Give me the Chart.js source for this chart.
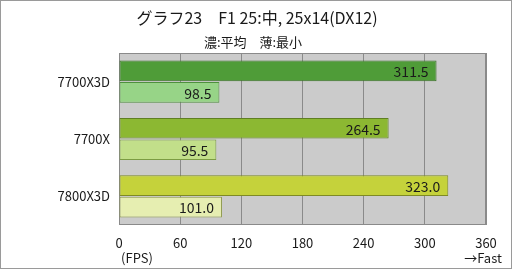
<!DOCTYPE html>
<html>
<head>
<meta charset="UTF-8">
<title>グラフ23</title>
<script src="https://cdn.jsdelivr.net/npm/chart.js@4.4.0/dist/chart.umd.min.js"></script>
<style>body{margin:0;background:#fff}</style>
</head>
<body>
<canvas id="fpsChart" width="512" height="271"></canvas>
<script>
var cpus = ['7700X3D', '7700X', '7800X3D'];
var avgFps = [311.5, 264.5, 323.0];
var minFps = [98.5, 95.5, 101.0];
var xTicks = [0, 60, 120, 180, 240, 300, 360];

var titleText = 'グラフ23\u3000F1 25:中, 25x14(DX12)';
var subtitleText = '濃:平均\u3000薄:最小';

var FONT = '"Noto Sans CJK JP", "Noto Sans", sans-serif';

var avgColors = ['#4f9c38', '#8cb832', '#c5d23b'];
var avgBorders = ['#3b6f29', '#5f7f22', '#7f8a25'];
var minColors = ['#97d487', '#c2df8a', '#e6eeb1'];
var minBorders = ['#4f8f3e', '#7c9c43', '#8f9a4a'];

var PLOT = { left: 119, top: 53, right: 486, bottom: 225 };

var decor = {
    id: 'decor',
    beforeDraw: function (chart) {
        var ctx = chart.ctx, a = chart.chartArea;
        ctx.save();
        ctx.fillStyle = '#fff';
        ctx.fillRect(0, 0, chart.width, chart.height);
        ctx.strokeStyle = '#9a9a9a';
        ctx.lineWidth = 1;
        ctx.strokeRect(0.5, 0.5, chart.width - 1, chart.height - 3);
        ctx.fillStyle = '#cbcbcb';
        ctx.fillRect(a.left, a.top, a.right - a.left, a.bottom - a.top);
        ctx.restore();
    },
    beforeDatasetsDraw: function (chart) {
        var ctx = chart.ctx, a = chart.chartArea;
        ctx.save();
        ctx.strokeStyle = '#8a8a8a';
        ctx.lineWidth = 1;
        ctx.strokeRect(a.left + 0.5, a.top + 0.5, a.right - a.left - 1, a.bottom - a.top - 1);
        ctx.restore();
    },
    afterDatasetsDraw: function (chart) {
        var ctx = chart.ctx;
        ctx.save();
        ctx.font = '14px ' + FONT;
        ctx.fillStyle = '#1a1a1a';
        ctx.textAlign = 'right';
        ctx.textBaseline = 'middle';
        chart.data.datasets.forEach(function (ds, i) {
            chart.getDatasetMeta(i).data.forEach(function (bar, j) {
                ctx.fillText(ds.data[j].toFixed(1), bar.x - 8, bar.y + 1);
            });
        });
        ctx.restore();
    },
    afterDraw: function (chart) {
        var ctx = chart.ctx;
        ctx.save();
        ctx.fillStyle = '#1a1a1a';
        ctx.textAlign = 'center';
        ctx.textBaseline = 'middle';
        ctx.font = '16px ' + FONT;
        ctx.fillText(titleText, 257, 18);
        ctx.font = '13px ' + FONT;
        ctx.fillText(subtitleText, 253, 42);
        ctx.font = '13px ' + FONT;
        ctx.fillText('(FPS)', 137, 258);
        ctx.fillText('→Fast', 483, 258);
        ctx.restore();
    }
};

new Chart(document.getElementById('fpsChart'), {
    type: 'bar',
    data: {
        labels: cpus,
        datasets: [
            { label: '平均', data: avgFps, backgroundColor: avgColors, borderColor: avgBorders, borderWidth: 1, borderSkipped: false },
            { label: '最小', data: minFps, backgroundColor: minColors, borderColor: minBorders, borderWidth: 1, borderSkipped: false }
        ]
    },
    options: {
        indexAxis: 'y',
        responsive: false,
        animation: false,
        devicePixelRatio: 1,
        layout: { padding: { left: 0, top: PLOT.top, right: 512 - PLOT.right, bottom: 0 } },
        datasets: { bar: { categoryPercentage: 0.75, barPercentage: 0.96 } },
        plugins: { legend: { display: false }, tooltip: { enabled: false }, title: { display: false } },
        scales: {
            x: {
                min: xTicks[0],
                max: xTicks[xTicks.length - 1],
                ticks: { stepSize: xTicks[1] - xTicks[0], padding: 10, color: '#1a1a1a', font: { family: FONT, size: 13 } },
                grid: { color: '#8a8a8a', drawTicks: false },
                border: { display: false },
                afterFit: function (s) { s.height = 271 - PLOT.bottom; }
            },
            y: {
                ticks: { padding: 9, color: '#1a1a1a', font: { family: FONT, size: 13 } },
                grid: { display: false, drawTicks: false },
                border: { display: false },
                afterFit: function (s) { s.width = PLOT.left; }
            }
        }
    },
    plugins: [decor]
});
</script>
</body>
</html>
